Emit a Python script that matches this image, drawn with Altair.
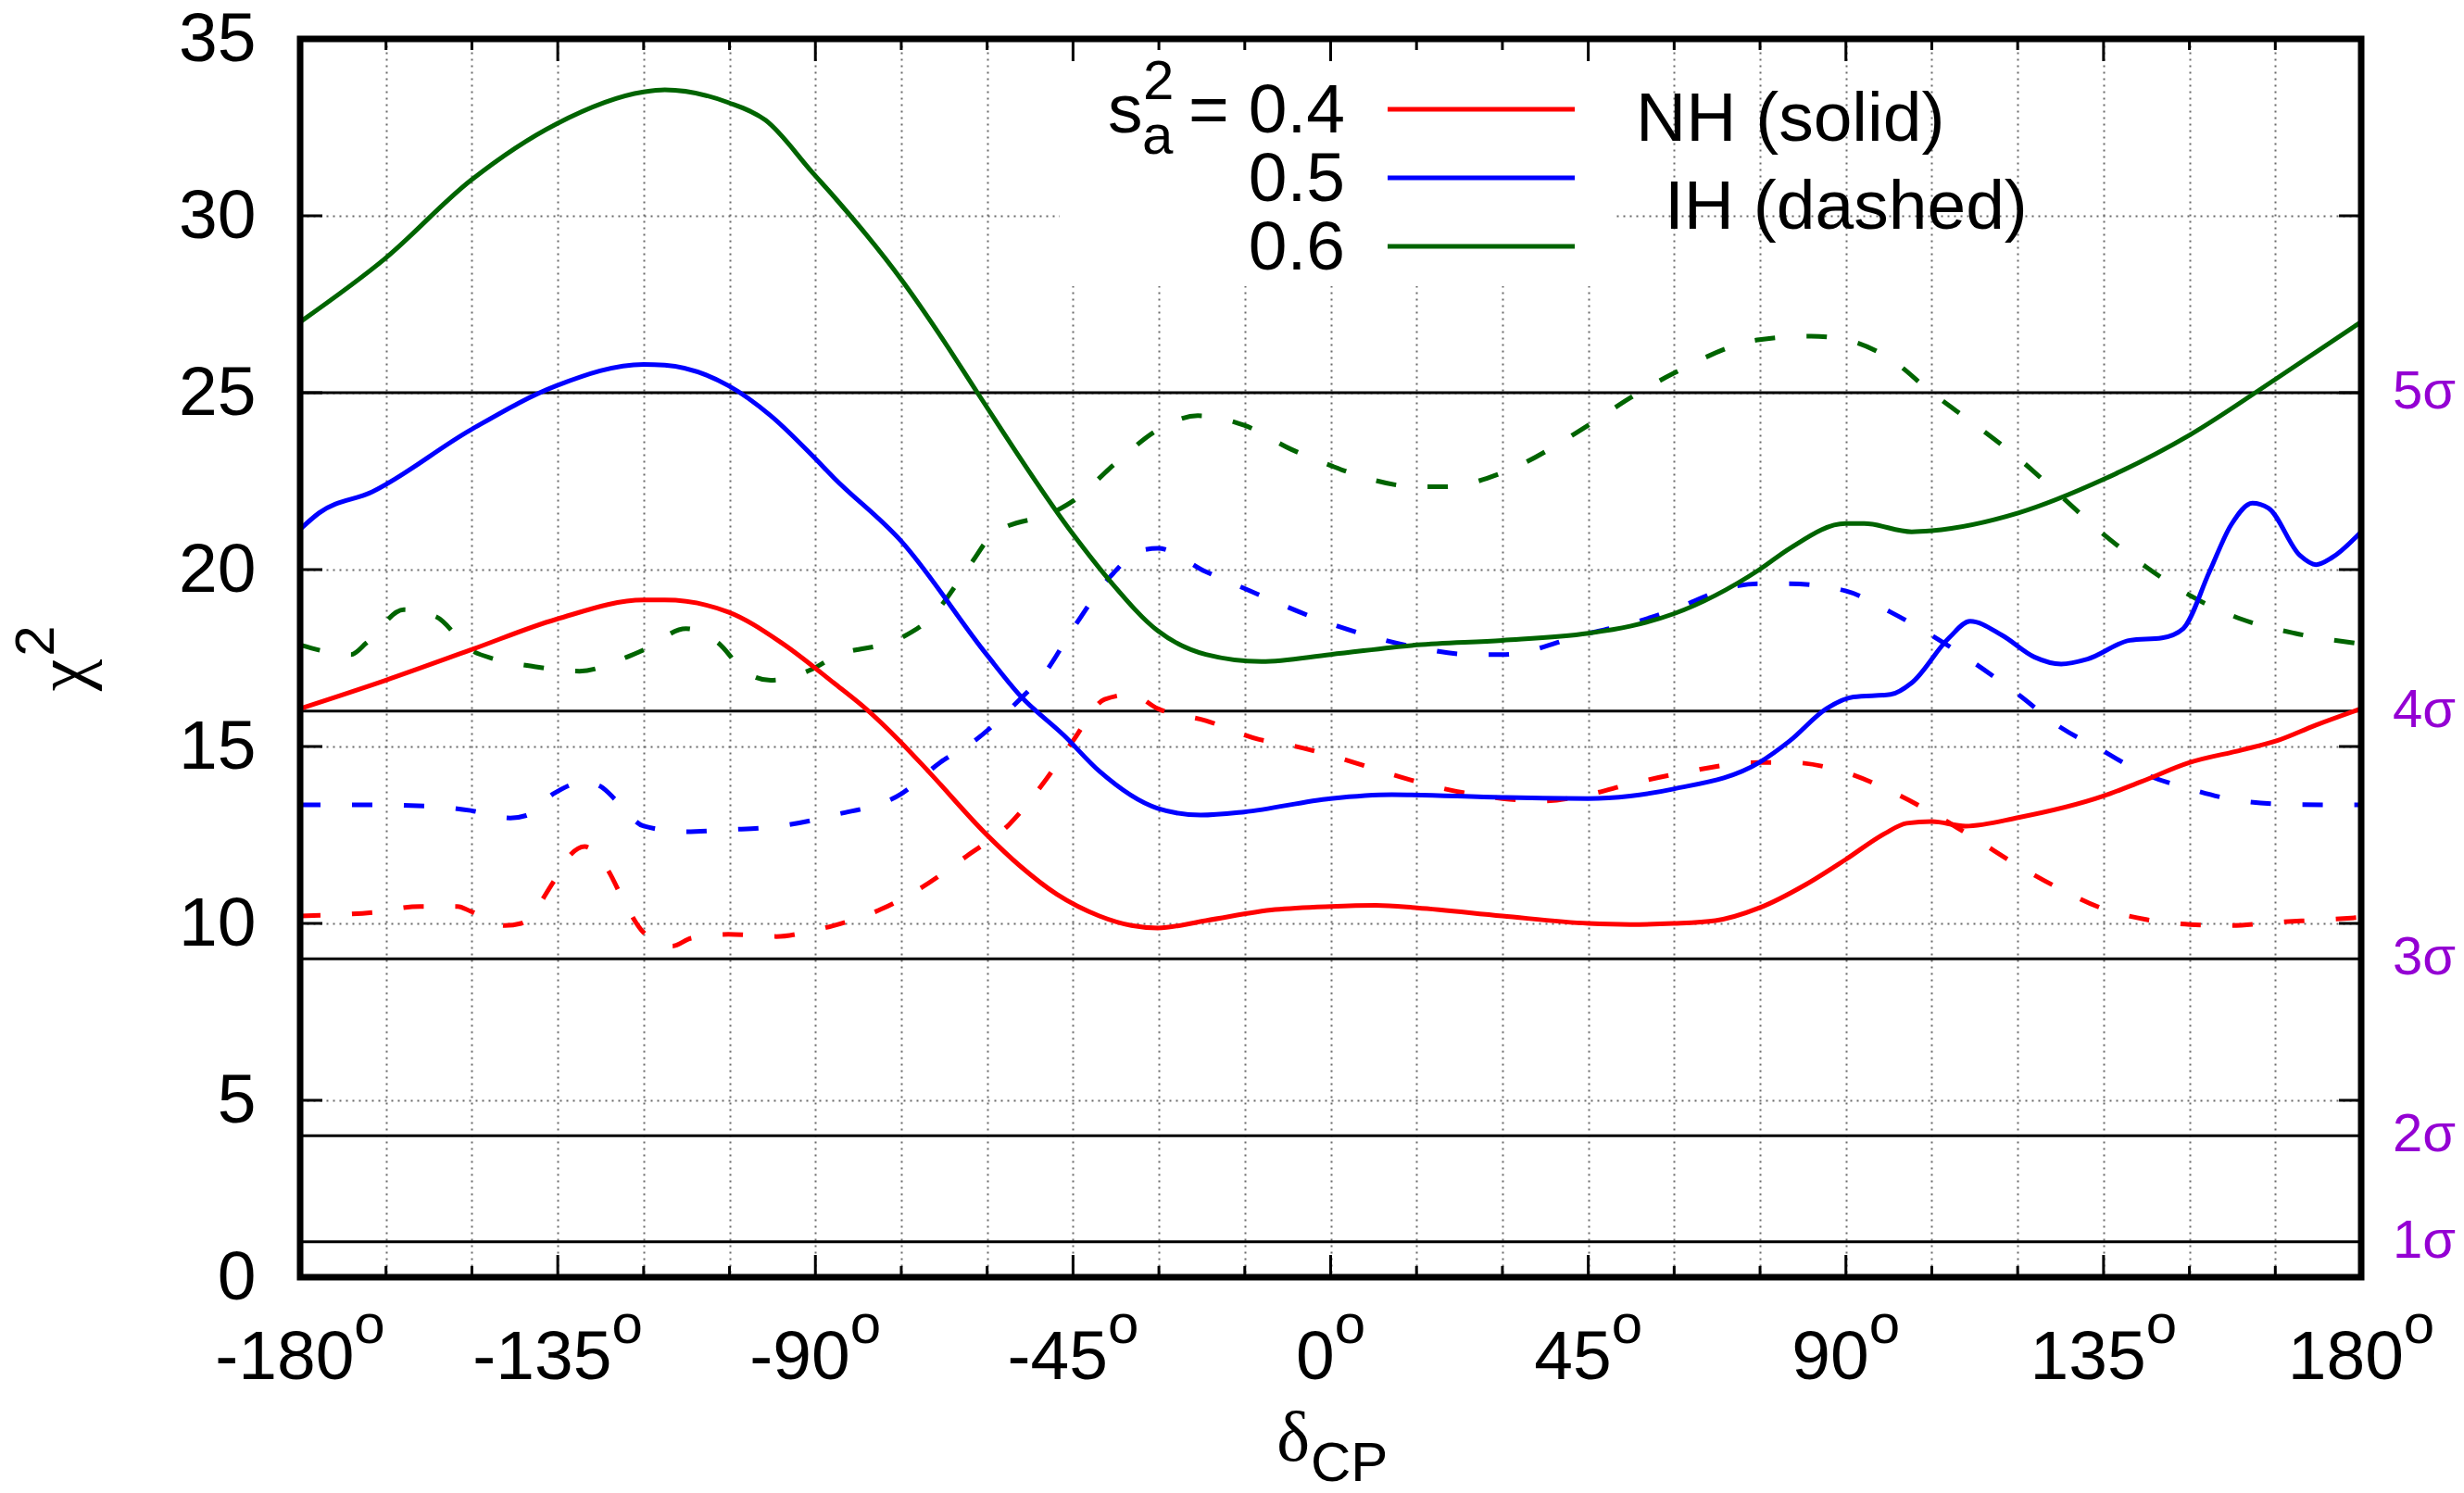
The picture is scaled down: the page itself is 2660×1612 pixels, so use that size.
import altair as alt
import pandas as pd

# ---------------- data ----------------
sa_values = ["0.4", "0.5", "0.6"]
line_colors = ["#ff0000", "#0000ff", "#006400"]

# NH (solid)
nh04_x = [-180, -165.1, -150.2, -135.2, -120, -116.3, -105.2, -95.9, -86.8, -81.2, -75.3, -70.1, -60.1, -54.3,
          -47.8, -40.4, -34.8, -30.2, -21.8, -9.7, 0, 7.9, 15.1, 30, 45, 52.3, 59.9, 67.2, 74.9, 83, 89.9, 96.9,
          100.6, 105, 110.9, 120.1, 135, 141.5, 150.1, 159.1, 165.2, 172, 180]
nh04_y = [16.07, 16.87, 17.73, 18.6, 19.14, 19.14, 18.8, 17.93, 16.8, 16.07, 15.16, 14.27, 12.51, 11.63,
          10.82, 10.21, 9.94, 9.87, 10.08, 10.39, 10.48, 10.51, 10.44, 10.21, 10.0, 9.97, 10.0, 10.08, 10.44, 11.1,
          11.8, 12.55, 12.83, 12.88, 12.75, 12.99, 13.6, 14.0, 14.55, 14.9, 15.16, 15.6, 16.07]

nh05_x = [-180, -176.7, -167.4, -150.2, -135.2, -120, -116.3, -105.2, -97.8, -90.4, -86.8, -75, -60.1, -54.3,
          -46.5, -40.4, -30.2, -22.7, -15.1, 0, 10.7, 30, 45, 52.3, 59.9, 74.9, 80.2, 86.6, 91.3, 97.8, 101.5,
          108, 111.7, 117.3, 122.9, 127.6, 132.2, 139.6, 145.2, 148.9, 153.5, 157.3, 161, 163.8, 169.3, 172.1,
          174.9, 180]
nh05_y = [21.14, 21.6, 22.2, 23.95, 25.2, 25.8, 25.78, 25.2, 24.35, 23.2, 22.6, 20.8, 17.6, 16.45,
          15.3, 14.3, 13.25, 13.06, 13.15, 13.53, 13.64, 13.56, 13.53, 13.6, 13.8, 14.55, 15.16, 16.07, 16.4,
          16.47, 16.8, 18.07, 18.54, 18.14, 17.53, 17.33, 17.47, 18.0, 18.07, 18.33, 19.94, 21.27, 21.88, 21.74,
          20.4, 20.14, 20.34, 21.07]

nh06_x = [-180, -165.1, -150.2, -135.2, -120, -116.3, -105.2, -98.7, -90.4, -86.8, -75, -67.3, -61.7, -45,
          -38.5, -30.2, -21.8, -12.1, 0, 15.1, 30, 45, 52.3, 59.9, 74.9, 80.2, 89.9, 93.2, 101.5, 105, 120.1,
          135, 150, 165.2, 180]
nh06_y = [27.0, 28.8, 31.0, 32.6, 33.5, 33.56, 33.2, 32.7, 31.2, 30.55, 28.2, 26.4, 25.0, 21.0,
          19.67, 18.27, 17.6, 17.4, 17.6, 17.87, 18.0, 18.2, 18.4, 18.75, 20.0, 20.6, 21.3, 21.3, 21.07, 21.1,
          21.6, 22.55, 23.8, 25.4, 27.0]

# IH (dashed)
ih04_x = [-180, -167.4, -159.1, -152.5, -150.2, -144.2, -141.4, -135.8, -133, -130.3, -126.5, -122.8, -120,
          -115, -111.7, -105.2, -96.8, -90.4, -86.8, -78.4, -72, -63.6, -56.2, -49.7, -45, -39.5, -34.8, -30.2,
          -21.8, -12.5, -6.9, 0, 10.7, 20, 30, 36.7, 45, 52.3, 59.9, 74.9, 80.2, 89.9, 98.8, 105, 112.7, 120.1,
          127.6, 135, 142.4, 150.1, 157.3, 165.2, 173.1, 180]
ih04_y = [10.21, 10.31, 10.48, 10.48, 10.34, 9.94, 10.0, 11.16, 11.9, 12.17, 11.57, 10.42, 9.74,
          9.36, 9.58, 9.69, 9.63, 9.8, 9.94, 10.41, 10.96, 11.9, 12.79, 14.07, 15.16, 16.33, 16.47, 16.07,
          15.73, 15.2, 15.03, 14.75, 14.21, 13.8, 13.53, 13.46, 13.64, 13.94, 14.21, 14.55, 14.55, 14.27, 13.66,
          13.13, 12.38, 11.63, 10.96, 10.41, 10.11, 9.97, 9.94, 10.03, 10.1, 10.17]

ih05_x = [-180, -167.4, -156.3, -150.2, -143.3, -140.5, -135.8, -130.3, -127.5, -124.7, -120, -112.6, -105.2,
          -97.8, -90.4, -86.8, -75, -68.2, -62.2, -54.3, -49.7, -45, -38.5, -32.9, -30.2, -21.8, -15.1, 0, 15.1,
          24.7, 30, 45, 52.3, 59.9, 70.9, 74.9, 80.2, 89.9, 97.8, 105, 112.7, 120.1, 127.6, 134, 142.4, 150.1,
          159.1, 168.4, 180]
ih05_y = [13.35, 13.35, 13.3, 13.19, 12.98, 13.05, 13.66, 14.0, 13.87, 13.46, 12.75, 12.59, 12.65,
          12.72, 12.92, 13.06, 13.66, 14.55, 15.16, 16.33, 17.13, 18.33, 19.8, 20.55, 20.6, 19.94, 19.47, 18.47,
          17.8, 17.6, 17.6, 18.2, 18.47, 18.87, 19.54, 19.6, 19.6, 19.4, 18.8, 18.14, 17.33, 16.47, 15.53,
          14.96, 14.21, 13.8, 13.46, 13.36, 13.35]

ih06_x = [-180, -171.1, -168.4, -161.9, -156.3, -150.2, -146, -139.5, -131.2, -122.9, -120, -112.6, -107,
          -102.4, -97.8, -90.4, -86.8, -75, -70.1, -62.7, -59, -47.8, -45, -37.6, -30.2, -23.2, -15.1, -6.9, 0,
          6, 15.1, 20, 30, 45, 52.3, 59.9, 74.9, 83.9, 89.9, 97.8, 105, 112.7, 120.1, 127.6, 135, 142.4, 150.1,
          159.1, 168.4, 180]
ih06_y = [17.87, 17.6, 17.93, 18.87, 18.67, 17.73, 17.47, 17.27, 17.13, 17.53, 17.73, 18.33, 17.93,
          17.13, 16.87, 17.2, 17.53, 18.07, 18.6, 20.2, 21.0, 21.67, 21.94, 23.0, 23.95, 24.35, 24.08, 23.4,
          22.94, 22.6, 22.34, 22.34, 22.74, 24.08, 24.85, 25.55, 26.5, 26.6, 26.5, 25.95, 25.0, 24.08, 23.15,
          22.07, 21.0, 20.08, 19.27, 18.6, 18.2, 17.9]

x_tick_values = [-180, -135, -90, -45, 0, 45, 90, 135, 180]
x_tick_labels = ["-180", "-135", "-90", "-45", "0", "45", "90", "135", "180"]
x_grid_values = [-180, -165, -150, -135, -120, -105, -90, -75, -60, -45, -30, -15, 0, 15, 30, 45, 60, 75, 90,
                 105, 120, 135, 150, 165, 180]
x_major_inner = [-135, -90, -45, 0, 45, 90, 135]
x_minor = [-165, -150, -120, -105, -75, -60, -30, -15, 15, 30, 60, 75, 105, 120, 150, 165]
y_axis_values = [0, 5, 10, 15, 20, 25, 30, 35]
y_inner_ticks = [5, 10, 15, 20, 25, 30]
sigma_levels = [1, 4, 9, 16, 25]
sigma_text = ["1σ", "2σ", "3σ", "4σ", "5σ"]

# ---------------- tables ----------------
def series(xs, ys, sa):
    return pd.DataFrame({"x": xs, "y": ys, "sa": sa})

df_nh = pd.concat([series(nh04_x, nh04_y, "0.4"), series(nh05_x, nh05_y, "0.5"),
                   series(nh06_x, nh06_y, "0.6")], ignore_index=True)
df_ih = pd.concat([series(ih04_x, ih04_y, "0.4"), series(ih05_x, ih05_y, "0.5"),
                   series(ih06_x, ih06_y, "0.6")], ignore_index=True)

# ---------------- layout ----------------
W, H = 2225, 1337
FONT = "Liberation Sans"
SERIF = "Liberation Serif"
FS = 75
SUP = 60

xscale = alt.Scale(domain=[-180, 180], nice=False, zero=False)
yscale = alt.Scale(domain=[0, 35], nice=False, zero=False)

GRID = dict(grid=True, gridColor="#6a6a6a", gridDash=[2, 5], gridWidth=2)
xaxis = alt.Axis(values=x_grid_values, labels=False, ticks=False, tickSize=0, domain=False, title=None, **GRID)
yaxis = alt.Axis(values=y_axis_values, ticks=False, tickSize=0, domain=False,
                 labelFont=FONT, labelFontSize=FS, labelColor="black",
                 labelPadding=48, labelOverlap=False, labelFlush=False, title=None, **GRID)

X = alt.X("x:Q", scale=xscale, axis=xaxis)
Y = alt.Y("y:Q", scale=yscale, axis=yaxis)
color_enc = alt.Color("sa:N", scale=alt.Scale(domain=sa_values, range=line_colors), legend=None)

one = pd.DataFrame({"a": [0]})

# legend white box (covers the grid)
legend_box = alt.Chart(one).mark_rect(color="white").encode(
    x=alt.value(820), x2=alt.value(1420), y=alt.value(4), y2=alt.value(267))

# sigma reference lines
sig_df = pd.DataFrame({"y": sigma_levels, "label": sigma_text})
sig_lines = alt.Chart(sig_df).mark_rule(color="black", strokeWidth=3).encode(y=Y)
sig_text = alt.Chart(sig_df).mark_text(font=FONT, fontSize=58, color="#9400d3", align="left",
                                       baseline="middle").encode(
    y=Y, x=alt.value(W + 34), text="label:N")

# curves
nh_lines = alt.Chart(df_nh).mark_line(strokeWidth=5, interpolate="monotone").encode(
    x=X, y=Y, color=color_enc)
ih_lines = alt.Chart(df_ih).mark_line(strokeWidth=5, interpolate="monotone", strokeDash=[22, 34],
                                      strokeCap="butt").encode(x=X, y=Y, color=color_enc)

# inward ticks
maj_df = pd.DataFrame({"x": x_major_inner})
min_df = pd.DataFrame({"x": x_minor})
yt_df = pd.DataFrame({"y": y_inner_ticks})
tick_style = dict(color="black", strokeWidth=3)
ticks = [
    alt.Chart(maj_df).mark_rule(**tick_style).encode(x=X, y=alt.value(H), y2=alt.value(H - 24)),
    alt.Chart(maj_df).mark_rule(**tick_style).encode(x=X, y=alt.value(0), y2=alt.value(24)),
    alt.Chart(min_df).mark_rule(**tick_style).encode(x=X, y=alt.value(H), y2=alt.value(H - 12)),
    alt.Chart(min_df).mark_rule(**tick_style).encode(x=X, y=alt.value(0), y2=alt.value(12)),
    alt.Chart(yt_df).mark_rule(**tick_style).encode(y=Y, x=alt.value(0), x2=alt.value(24)),
    alt.Chart(yt_df).mark_rule(**tick_style).encode(y=Y, x=alt.value(W), x2=alt.value(W - 24)),
]

border = alt.Chart(one).mark_rect(fillOpacity=0, stroke="black", strokeWidth=7).encode(
    x=alt.value(0), x2=alt.value(W), y=alt.value(0), y2=alt.value(H))

# x tick labels "N^o": number + raised o, the pair centred on the tick
px_per_deg = W / 360.0
o_width = 0.556 * SUP
xl_df = pd.DataFrame({"x": x_tick_values, "t": x_tick_labels})
xl_base = alt.Chart(xl_df).transform_calculate(
    wn=f"0.556*{FS}*length(replace(datum.t, '-', '')) + (indexof(datum.t, '-') >= 0 ? 0.333*{FS} : 0)"
).transform_calculate(
    xa=f"datum.x + (datum.wn - {o_width}) / 2 / {px_per_deg}"
)
xl_num = xl_base.mark_text(font=FONT, fontSize=FS, align="right", baseline="alphabetic", color="black").encode(
    x=alt.X("xa:Q", scale=xscale, axis=xaxis), y=alt.value(H + 110), text="t:N")
xl_sup = xl_base.mark_text(font=FONT, fontSize=SUP, align="left", baseline="alphabetic", color="black").encode(
    x=alt.X("xa:Q", scale=xscale, axis=xaxis), y=alt.value(H + 71), text=alt.value("o"))


def label(text, x, y, size=FS, align="left", baseline="alphabetic", angle=0, color="black", font=FONT):
    kw = dict(font=font, fontSize=size, align=align, baseline=baseline, color=color)
    if angle:
        kw["angle"] = angle
    return alt.Chart(one).mark_text(**kw).encode(x=alt.value(x), y=alt.value(y), text=alt.value(text))


texts = [
    # legend
    label("s", 872, 101),
    label("a", 909, 124, size=SUP),
    label("2", 910, 65, size=SUP),
    label("= 0.4", 1128, 101, align="right"),
    label("0.5", 1128, 175, align="right"),
    label("0.6", 1128, 249, align="right"),
    label("NH (solid)", 1442, 110),
    label("IH (dashed)", 1473, 205),
    # y title chi^2 (rotated)
    label("χ", -231, 687, align="center", angle=270, font=SERIF, size=78),
    label("2", -266, 650, align="center", angle=270, size=SUP),
    # x title delta_CP
    label("δ", 1090, 1535, align="right", font=SERIF, size=76),
    label("CP", 1091, 1557, size=SUP),
]

leg_df = pd.DataFrame({"sa": sa_values, "ly": [76, 150, 224]})
legend_lines = alt.Chart(leg_df).mark_rule(strokeWidth=5).encode(
    x=alt.value(1174), x2=alt.value(1376), y=alt.Y("ly:Q", scale=None), color=color_enc)

chart = alt.layer(
    legend_box, sig_lines, ih_lines, nh_lines, *ticks, border, sig_text, legend_lines,
    xl_num, xl_sup, *texts
).properties(
    width=W, height=H,
    padding={"left": 324, "top": 42, "right": 2660 - 324 - W, "bottom": 1612 - 42 - H},
    autosize=alt.AutoSizeParams(type="none"),
    background="white",
).configure_view(strokeWidth=0)

chart.save("out.html", embed_options={"renderer": "svg", "actions": False})
